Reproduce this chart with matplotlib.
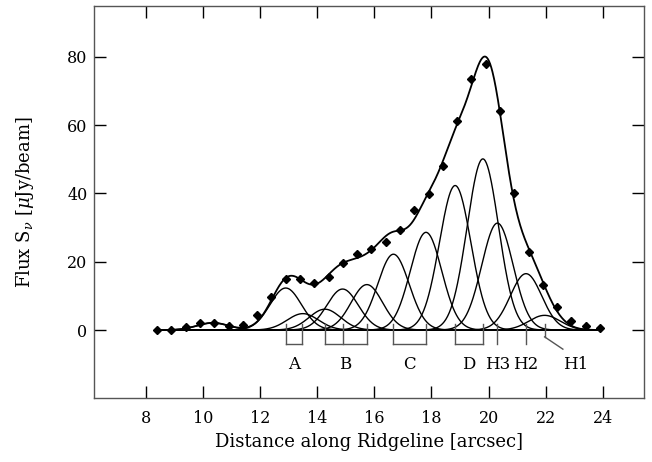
import numpy as np
import matplotlib
matplotlib.use("Agg")
import matplotlib.pyplot as plt

plt.rcParams['font.family'] = ['DejaVu Serif']
plt.rcParams['mathtext.fontset'] = 'dejavuserif'

# ---- data ----
distance = [8.4, 8.9, 9.4, 9.9, 10.4, 10.9, 11.4, 11.9,
            12.4, 12.9, 13.4, 13.9, 14.4, 14.9, 15.4, 15.9, 16.4, 16.9, 17.4,
            17.9, 18.4, 18.9, 19.4, 19.9, 20.4, 20.9,
            21.4, 21.9, 22.4, 22.9, 23.4, 23.9]
flux = [0.0, 0.1, 0.9, 2.0, 2.2, 1.3, 1.5, 4.3,
        9.8, 14.9, 15.0, 13.7, 15.5, 19.6, 22.2, 23.7, 25.8, 29.2, 35.0,
        39.9, 48.1, 61.3, 73.5, 78.0, 64.0, 40.2,
        22.8, 13.2, 6.8, 2.7, 1.3, 0.6]
flux_err = 1.0

# Gaussian components: centre, amplitude, sigma
comp_center = [10.35, 12.90, 13.50, 14.27, 14.89, 15.74, 16.67, 17.81,
               18.83, 19.80, 20.31, 21.31, 21.96]
comp_amp = [2.1, 12.3, 4.8, 6.1, 12.0, 13.3, 22.2, 28.6,
            42.3, 50.1, 31.3, 16.5, 4.3]
comp_sigma = [0.55] * 13

# component groups (labels + positions of bracket ticks)
group_labels = ["A", "B", "C", "D", "H3", "H2"]
group_positions = [[12.90, 13.46], [14.27, 14.89, 15.74], [16.67, 17.81],
                   [18.83, 19.80], [20.31], [21.31]]
h1_position = 21.96
h1_label_pos = (23.05, -10.2)

# ---- figure ----
fig = plt.figure(figsize=(6.52, 4.62), dpi=100)
ax = fig.add_axes([0.1446, 0.1378, 0.8436, 0.8502])

xx = np.linspace(distance[0], distance[-1], 800)
total = np.zeros_like(xx)
for c, a, s in zip(comp_center, comp_amp, comp_sigma):
    g = a * np.exp(-0.5 * ((xx - c) / s) ** 2)
    total += g
    ax.plot(xx, g, color='black', lw=1.0)
ax.plot(xx, total, color='black', lw=1.3)

ax.errorbar(distance, flux, yerr=flux_err, xerr=0.08, fmt='D', color='black',
            ms=3.8, elinewidth=1.0, capsize=0, zorder=5)

bcol = '#555555'
top_y, bot_y = 1.8, -4.1
for lab, pos in zip(group_labels, group_positions):
    for p in pos:
        ax.plot([p, p], [top_y, bot_y], color=bcol, lw=1.0)
    if len(pos) > 1:
        ax.plot([min(pos), max(pos)], [bot_y, bot_y], color=bcol, lw=1.0)
    ax.text(np.mean(pos), -10.2, lab, ha='center', va='center', fontsize=12)
ax.plot([h1_position, h1_position], [top_y, -2.0], color=bcol, lw=1.0)
ax.plot([h1_position, 22.6], [-2.0, -5.6], color=bcol, lw=1.0)
ax.text(h1_label_pos[0], h1_label_pos[1], "H1", ha='center', va='center', fontsize=12)

ax.set_xlim(6.2, 25.45)
ax.set_ylim(-20, 95)
ax.set_xticks([8, 10, 12, 14, 16, 18, 20, 22, 24])
ax.set_yticks([0, 20, 40, 60, 80])
ax.tick_params(direction='in', length=8.5, width=1.0, top=True, right=True,
               labelsize=11.5, colors='black')
ax.tick_params(axis='x', pad=8.5)
ax.tick_params(axis='y', pad=5)
for sp in ax.spines.values():
    sp.set_color('#555555')
    sp.set_linewidth(1.0)

ax.set_xlabel("Distance along Ridgeline [arcsec]", fontsize=13, labelpad=4)
ax.set_ylabel(r"Flux S$_\nu$ [$\mu$Jy/beam]", fontsize=13, labelpad=22)

fig.savefig("out.png", dpi=100)
